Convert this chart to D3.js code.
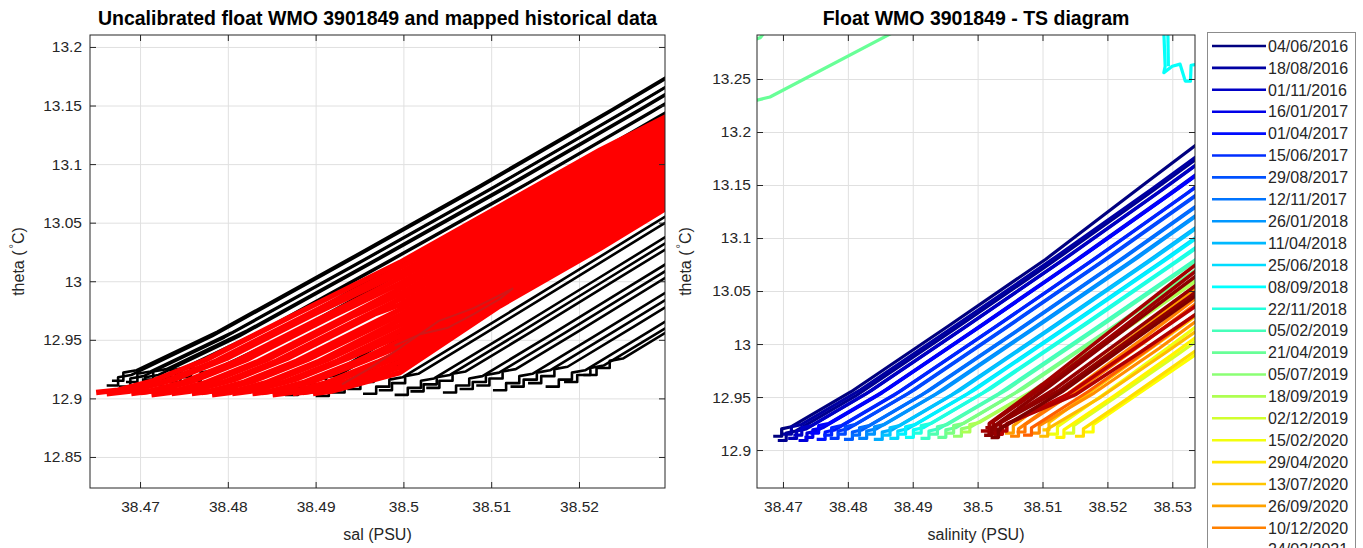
<!DOCTYPE html>
<html>
<head>
<meta charset="utf-8">
<script src="https://cdn.jsdelivr.net/npm/d3@7"></script>
<style>
  body { margin: 0; background: #fff; }
  svg { display: block; font-family: "Liberation Sans", Arial, sans-serif; }
</style>
</head>
<body>
<svg id="chart" width="1363" height="548"></svg>
<script>
// ---- ticks ----
const leftXTicks = [38.47, 38.48, 38.49, 38.5, 38.51, 38.52];
const leftYTicks = [12.85, 12.9, 12.95, 13, 13.05, 13.1, 13.15, 13.2];
const rightXTicks = [38.47, 38.48, 38.49, 38.5, 38.51, 38.52, 38.53];
const rightYTicks = [12.9, 12.95, 13, 13.05, 13.1, 13.15, 13.2, 13.25];

// ---- legend (every 15th cycle) ----
const legendDates = ['04/06/2016', '18/08/2016', '01/11/2016', '16/01/2017', '01/04/2017',
  '15/06/2017', '29/08/2017', '12/11/2017', '26/01/2018', '11/04/2018', '25/06/2018',
  '08/09/2018', '22/11/2018', '05/02/2019', '21/04/2019', '05/07/2019', '18/09/2019',
  '02/12/2019', '15/02/2020', '29/04/2020', '13/07/2020', '26/09/2020', '10/12/2020',
  '24/02/2021', '10/05/2021', '24/07/2021', '07/10/2021', '21/12/2021', '06/03/2022', '20/05/2022'];
const legendCycles = [1, 16, 31, 46, 61, 76, 91, 106, 121, 136, 151, 166, 181, 196, 211,
  226, 241, 256, 271, 286, 301, 316, 331, 346, 361, 376, 391, 406, 421, 436];
const lastCycle = 441;

// ---- left panel: mapped historical data (black) ----
const histUpper = [
  [[38.4662,12.911],[38.4675,12.911],[38.4675,12.918],[38.4690,12.920],[38.4782,12.953],[38.4932,13.015],[38.5082,13.078],[38.5232,13.143],[38.5362,13.201]],
  [[38.4668,12.915],[38.4681,12.915],[38.4681,12.922],[38.4696,12.924],[38.4788,12.957],[38.4938,13.019],[38.5088,13.082],[38.5238,13.147],[38.5368,13.205]],
  [[38.4676,12.910],[38.4689,12.910],[38.4689,12.917],[38.4704,12.919],[38.4796,12.952],[38.4946,13.014],[38.5096,13.077],[38.5246,13.142],[38.5376,13.200]],
  [[38.4684,12.914],[38.4697,12.914],[38.4697,12.921],[38.4712,12.923],[38.4804,12.956],[38.4954,13.018],[38.5104,13.081],[38.5254,13.146],[38.5384,13.204]],
  [[38.4693,12.911],[38.4706,12.911],[38.4706,12.918],[38.4721,12.920],[38.4813,12.953],[38.4963,13.015],[38.5113,13.078],[38.5263,13.143],[38.5393,13.201]],
  [[38.4702,12.916],[38.4715,12.916],[38.4715,12.923],[38.4730,12.925],[38.4822,12.958],[38.4972,13.020],[38.5122,13.083],[38.5272,13.148],[38.5402,13.206]],
  [[38.4712,12.912],[38.4725,12.912],[38.4725,12.919],[38.4740,12.921],[38.4832,12.954],[38.4982,13.016],[38.5132,13.079],[38.5282,13.144],[38.5412,13.202]],
  [[38.4722,12.917],[38.4735,12.917],[38.4735,12.924],[38.4750,12.926],[38.4842,12.959],[38.4992,13.021],[38.5142,13.084],[38.5292,13.149],[38.5422,13.207]],
  [[38.4733,12.914],[38.4746,12.914],[38.4746,12.921],[38.4761,12.923],[38.4853,12.956],[38.5003,13.018],[38.5153,13.081],[38.5303,13.146]],
  [[38.4745,12.918],[38.4758,12.918],[38.4758,12.925],[38.4773,12.927],[38.4865,12.960],[38.5015,13.022],[38.5165,13.085],[38.5315,13.150]],
  [[38.4756,12.915],[38.4769,12.915],[38.4769,12.922],[38.4784,12.924],[38.4876,12.957],[38.5026,13.019],[38.5176,13.082],[38.5326,13.147]]
];
const histLower = [
  [[38.4865,12.903],[38.4880,12.903],[38.4880,12.909],[38.4895,12.909],[38.4895,12.915],[38.4910,12.917],[38.4985,12.951],[38.5085,12.997],[38.5185,13.043],[38.5285,13.089],[38.5335,13.112]],
  [[38.4882,12.906],[38.4897,12.906],[38.4897,12.912],[38.4912,12.912],[38.4912,12.918],[38.4927,12.920],[38.5002,12.954],[38.5102,13.000],[38.5202,13.046],[38.5302,13.092]],
  [[38.4900,12.902],[38.4915,12.902],[38.4915,12.908],[38.4930,12.908],[38.4930,12.914],[38.4945,12.916],[38.5020,12.950],[38.5120,12.996],[38.5220,13.042],[38.5320,13.088]],
  [[38.4918,12.905],[38.4933,12.905],[38.4933,12.911],[38.4948,12.911],[38.4948,12.917],[38.4963,12.919],[38.5038,12.953],[38.5138,12.999],[38.5238,13.045],[38.5338,13.091]],
  [[38.4936,12.908],[38.4951,12.908],[38.4951,12.914],[38.4966,12.914],[38.4966,12.920],[38.4981,12.922],[38.5056,12.956],[38.5156,13.002],[38.5256,13.048],[38.5356,13.094]],
  [[38.4954,12.904],[38.4969,12.904],[38.4969,12.910],[38.4984,12.910],[38.4984,12.916],[38.4999,12.918],[38.5074,12.952],[38.5174,12.998],[38.5274,13.044],[38.5374,13.090]],
  [[38.4972,12.907],[38.4987,12.907],[38.4987,12.913],[38.5002,12.913],[38.5002,12.919],[38.5017,12.921],[38.5092,12.955],[38.5192,13.001],[38.5292,13.047],[38.5392,13.093]],
  [[38.4990,12.903],[38.5005,12.903],[38.5005,12.909],[38.5020,12.909],[38.5020,12.915],[38.5035,12.917],[38.5110,12.951],[38.5210,12.997],[38.5310,13.043]],
  [[38.5008,12.906],[38.5023,12.906],[38.5023,12.912],[38.5038,12.912],[38.5038,12.918],[38.5053,12.920],[38.5128,12.954],[38.5228,13.000],[38.5328,13.046]],
  [[38.5026,12.909],[38.5041,12.909],[38.5041,12.915],[38.5056,12.915],[38.5056,12.921],[38.5071,12.923],[38.5146,12.957],[38.5246,13.003],[38.5346,13.049]],
  [[38.5045,12.905],[38.5060,12.905],[38.5060,12.911],[38.5075,12.911],[38.5075,12.917],[38.5090,12.919],[38.5165,12.953],[38.5265,12.999],[38.5365,13.045]],
  [[38.5064,12.908],[38.5079,12.908],[38.5079,12.914],[38.5094,12.914],[38.5094,12.920],[38.5109,12.922],[38.5184,12.956],[38.5284,13.002],[38.5384,13.048]],
  [[38.5083,12.911],[38.5098,12.911],[38.5098,12.917],[38.5113,12.917],[38.5113,12.923],[38.5128,12.925],[38.5203,12.959],[38.5303,13.005]],
  [[38.5102,12.907],[38.5117,12.907],[38.5117,12.913],[38.5132,12.913],[38.5132,12.919],[38.5147,12.921],[38.5222,12.955],[38.5322,13.001]],
  [[38.5122,12.910],[38.5137,12.910],[38.5137,12.916],[38.5152,12.916],[38.5152,12.922],[38.5167,12.924],[38.5242,12.958],[38.5342,13.004]],
  [[38.5142,12.913],[38.5157,12.913],[38.5157,12.919],[38.5172,12.919],[38.5172,12.925],[38.5187,12.927],[38.5262,12.961],[38.5362,13.007]],
  [[38.5162,12.910],[38.5177,12.910],[38.5177,12.916],[38.5192,12.916],[38.5192,12.922],[38.5207,12.924],[38.5282,12.958],[38.5382,13.004]],
  [[38.5183,12.914],[38.5198,12.914],[38.5198,12.920],[38.5213,12.920],[38.5213,12.926],[38.5228,12.928],[38.5303,12.962]],
  [[38.5205,12.920],[38.5220,12.920],[38.5220,12.926],[38.5235,12.926],[38.5235,12.932],[38.5250,12.934],[38.5325,12.968]]
];

// ---- left panel: uncalibrated float profiles (red) ----
const floatRaw = [
  [[38.4650,12.905],[38.4675,12.907],[38.4715,12.915],[38.4775,12.933],[38.4875,12.971],[38.4996,13.016],[38.5110,13.064],[38.5224,13.112],[38.5340,13.156]],
  [[38.4662,12.904],[38.4687,12.906],[38.4727,12.914],[38.4787,12.932],[38.4887,12.970],[38.4996,13.0115],[38.5110,13.060],[38.5224,13.108],[38.5340,13.152]],
  [[38.4678,12.906],[38.4698,12.908],[38.4738,12.916],[38.4798,12.934],[38.4898,12.972],[38.4996,13.007],[38.5110,13.056],[38.5224,13.104],[38.5340,13.149]],
  [[38.4690,12.904],[38.4710,12.906],[38.4750,12.914],[38.4810,12.932],[38.4910,12.970],[38.4996,13.0026],[38.5110,13.0519],[38.5224,13.100],[38.5340,13.145]],
  [[38.4701,12.905],[38.4721,12.907],[38.4761,12.915],[38.4821,12.933],[38.4921,12.971],[38.4996,12.998],[38.5110,13.048],[38.5224,13.096],[38.5340,13.142]],
  [[38.4713,12.903],[38.4733,12.905],[38.4773,12.913],[38.4833,12.931],[38.4933,12.969],[38.4996,12.9936],[38.5110,13.0438],[38.5224,13.092],[38.5340,13.138]],
  [[38.4724,12.905],[38.4744,12.907],[38.4784,12.915],[38.4844,12.933],[38.4944,12.971],[38.4996,12.989],[38.5110,13.0397],[38.5224,13.088],[38.5340,13.135]],
  [[38.4736,12.904],[38.4756,12.906],[38.4796,12.914],[38.4856,12.932],[38.4956,12.970],[38.4996,12.9847],[38.5110,13.0357],[38.5224,13.084],[38.5340,13.131]],
  [[38.4747,12.906],[38.4767,12.908],[38.4807,12.916],[38.4867,12.934],[38.4967,12.972],[38.4996,12.980],[38.5110,13.0316],[38.5224,13.080],[38.5340,13.1274]],
  [[38.4759,12.904],[38.4779,12.906],[38.4819,12.914],[38.4879,12.932],[38.4996,12.9757],[38.5110,13.0276],[38.5224,13.076],[38.5340,13.1239]],
  [[38.4770,12.905],[38.4790,12.907],[38.4830,12.915],[38.4890,12.933],[38.4996,12.9712],[38.5110,13.0235],[38.5224,13.072],[38.5340,13.1203]],
  [[38.4782,12.903],[38.4802,12.905],[38.4842,12.913],[38.4902,12.931],[38.4996,12.9668],[38.5110,13.0195],[38.5224,13.068],[38.5340,13.1167]],
  [[38.4793,12.905],[38.4813,12.907],[38.4853,12.915],[38.4913,12.933],[38.4996,12.9623],[38.5110,13.0154],[38.5224,13.064],[38.5340,13.1131]],
  [[38.4805,12.904],[38.4825,12.906],[38.4865,12.914],[38.4925,12.932],[38.4996,12.9578],[38.5110,13.0114],[38.5224,13.060],[38.5340,13.1096]],
  [[38.4816,12.906],[38.4836,12.908],[38.4876,12.916],[38.4936,12.934],[38.4996,12.9533],[38.5110,13.0073],[38.5224,13.056],[38.5340,13.106]],
  [[38.4828,12.904],[38.4848,12.906],[38.4888,12.914],[38.4948,12.932],[38.4996,12.9489],[38.5110,13.0033],[38.5224,13.052],[38.5340,13.1024]],
  [[38.4839,12.905],[38.4859,12.907],[38.4899,12.915],[38.4959,12.933],[38.4996,12.9444],[38.5110,12.9992],[38.5224,13.048],[38.5340,13.0989]],
  [[38.4851,12.903],[38.4871,12.905],[38.4911,12.913],[38.4971,12.931],[38.4996,12.9399],[38.5110,12.9952],[38.5224,13.044],[38.5340,13.0953]],
  [[38.4862,12.905],[38.4882,12.907],[38.4922,12.915],[38.4996,12.9354],[38.5110,12.9911],[38.5224,13.040],[38.5340,13.0917]],
  [[38.4874,12.904],[38.4894,12.906],[38.4934,12.914],[38.4996,12.931],[38.5110,12.9871],[38.5224,13.036],[38.5340,13.0881]],
  [[38.4885,12.905],[38.4905,12.907],[38.4945,12.915],[38.4996,12.9265],[38.5110,12.983],[38.5224,13.032],[38.5340,13.0846]],
  [[38.4897,12.904],[38.4917,12.906],[38.4957,12.914],[38.4996,12.922],[38.5110,12.979],[38.5224,13.028],[38.5340,13.081]]
];
const floatLoop = [[38.4930,12.912],[38.4960,12.925],[38.4996,12.943],[38.5040,12.966],[38.5080,12.977],
  [38.5115,12.990],[38.5125,12.994],[38.5110,12.985],[38.5080,12.972],[38.5050,12.960],[38.5020,12.955],[38.4990,12.945]];

// ---- right panel: float profiles coloured by cycle ----
const tsProfiles = [
  {cycle: 1, pts: [[38.4685,12.913],[38.4698,12.913],[38.4698,12.920],[38.4713,12.922],[38.4805,12.955],[38.4955,13.017],[38.5105,13.080],[38.5255,13.150],[38.5385,13.210]]},
  {cycle: 8, pts: [[38.4692,12.909],[38.4705,12.909],[38.4705,12.916],[38.4720,12.918],[38.4812,12.951],[38.4962,13.013],[38.5112,13.076],[38.5262,13.141],[38.5392,13.199]]},
  {cycle: 16, pts: [[38.4700,12.915],[38.4713,12.915],[38.4713,12.922],[38.4728,12.924],[38.4820,12.957],[38.4970,13.019],[38.5120,13.082],[38.5270,13.147],[38.5400,13.205]]},
  {cycle: 24, pts: [[38.4708,12.911],[38.4721,12.911],[38.4721,12.918],[38.4736,12.920],[38.4828,12.953],[38.4978,13.015],[38.5128,13.078],[38.5278,13.143],[38.5408,13.201]]},
  {cycle: 31, pts: [[38.4716,12.914],[38.4729,12.914],[38.4729,12.921],[38.4744,12.923],[38.4836,12.956],[38.4986,13.018],[38.5136,13.081],[38.5286,13.146],[38.5416,13.204]]},
  {cycle: 40, pts: [[38.4724,12.909],[38.4737,12.909],[38.4737,12.916],[38.4752,12.918],[38.4844,12.951],[38.4994,13.013],[38.5144,13.076],[38.5294,13.141],[38.5424,13.199]]},
  {cycle: 48, pts: [[38.4733,12.912],[38.4746,12.912],[38.4746,12.919],[38.4761,12.921],[38.4853,12.954],[38.5003,13.016],[38.5153,13.079],[38.5303,13.144],[38.5433,13.202]]},
  {cycle: 56, pts: [[38.4742,12.916],[38.4755,12.916],[38.4755,12.923],[38.4770,12.925],[38.4862,12.958],[38.5012,13.020],[38.5162,13.083],[38.5312,13.148],[38.5442,13.206]]},
  {cycle: 64, pts: [[38.4752,12.910],[38.4765,12.910],[38.4765,12.917],[38.4780,12.919],[38.4872,12.952],[38.5022,13.014],[38.5172,13.077],[38.5322,13.142],[38.5452,13.200]]},
  {cycle: 72, pts: [[38.4762,12.914],[38.4775,12.914],[38.4775,12.921],[38.4790,12.923],[38.4882,12.956],[38.5032,13.018],[38.5182,13.081],[38.5332,13.146],[38.5462,13.204]]},
  {cycle: 80, pts: [[38.4772,12.911],[38.4785,12.911],[38.4785,12.918],[38.4800,12.920],[38.4892,12.953],[38.5042,13.015],[38.5192,13.078],[38.5342,13.143]]},
  {cycle: 88, pts: [[38.4783,12.915],[38.4796,12.915],[38.4796,12.922],[38.4811,12.924],[38.4903,12.957],[38.5053,13.019],[38.5203,13.082],[38.5353,13.147]]},
  {cycle: 96, pts: [[38.4794,12.910],[38.4807,12.910],[38.4807,12.917],[38.4822,12.919],[38.4914,12.952],[38.5064,13.014],[38.5214,13.077],[38.5364,13.142]]},
  {cycle: 104, pts: [[38.4805,12.914],[38.4818,12.914],[38.4818,12.921],[38.4833,12.923],[38.4925,12.956],[38.5075,13.018],[38.5225,13.081],[38.5375,13.146]]},
  {cycle: 112, pts: [[38.4816,12.911],[38.4829,12.911],[38.4829,12.918],[38.4844,12.920],[38.4936,12.953],[38.5086,13.015],[38.5236,13.078],[38.5386,13.143]]},
  {cycle: 120, pts: [[38.4828,12.915],[38.4841,12.915],[38.4841,12.922],[38.4856,12.924],[38.4948,12.957],[38.5098,13.019],[38.5248,13.082],[38.5398,13.147]]},
  {cycle: 130, pts: [[38.4840,12.910],[38.4853,12.910],[38.4853,12.917],[38.4868,12.919],[38.4960,12.952],[38.5110,13.014],[38.5260,13.077],[38.5410,13.142]]},
  {cycle: 140, pts: [[38.4852,12.914],[38.4865,12.914],[38.4865,12.921],[38.4880,12.923],[38.4972,12.956],[38.5122,13.018],[38.5272,13.081],[38.5422,13.146]]},
  {cycle: 150, pts: [[38.4864,12.911],[38.4877,12.911],[38.4877,12.918],[38.4892,12.920],[38.4984,12.953],[38.5134,13.015],[38.5284,13.078],[38.5434,13.143]]},
  {cycle: 160, pts: [[38.4876,12.915],[38.4889,12.915],[38.4889,12.922],[38.4904,12.924],[38.4996,12.957],[38.5146,13.019],[38.5296,13.082],[38.5446,13.147]]},
  {cycle: 168, pts: [[38.5284,13.300],[38.5287,13.294],[38.5289,13.262],[38.5287,13.256],[38.5300,13.262],[38.5312,13.264],[38.5315,13.258],[38.5320,13.248],[38.5328,13.248],[38.5329,13.263],[38.5340,13.264]]},
  {cycle: 168, pts: [[38.5293,13.300],[38.5294,13.262]]},
  {cycle: 170, pts: [[38.4888,12.912],[38.4901,12.912],[38.4901,12.919],[38.4916,12.921],[38.5008,12.954],[38.5158,13.016],[38.5308,13.079],[38.5458,13.144]]},
  {cycle: 180, pts: [[38.4900,12.916],[38.4913,12.916],[38.4913,12.923],[38.4928,12.925],[38.5020,12.958],[38.5170,13.020],[38.5320,13.083],[38.5470,13.148]]},
  {cycle: 190, pts: [[38.4912,12.911],[38.4925,12.911],[38.4925,12.918],[38.4940,12.920],[38.5032,12.953],[38.5182,13.015],[38.5332,13.078],[38.5482,13.143]]},
  {cycle: 200, pts: [[38.4925,12.915],[38.4938,12.915],[38.4938,12.922],[38.4953,12.924],[38.5045,12.957],[38.5195,13.019],[38.5345,13.082]]},
  {cycle: 210, pts: [[38.4938,12.912],[38.4951,12.912],[38.4951,12.919],[38.4966,12.921],[38.5058,12.954],[38.5208,13.016],[38.5358,13.079]]},
  {cycle: 211, pts: [[38.4600,13.226],[38.4660,13.230],[38.4680,13.233],[38.4870,13.294],[38.4960,13.325]]},
  {cycle: 211, pts: [[38.4640,13.284],[38.4665,13.289],[38.4680,13.300]]},
  {cycle: 220, pts: [[38.4950,12.916],[38.4963,12.916],[38.4963,12.923],[38.4978,12.925],[38.5070,12.958],[38.5220,13.020],[38.5370,13.083]]},
  {cycle: 230, pts: [[38.4962,12.913],[38.4975,12.913],[38.4975,12.920],[38.4990,12.922],[38.5082,12.955],[38.5232,13.017],[38.5382,13.080]]},
  {cycle: 240, pts: [[38.4975,12.917],[38.4988,12.917],[38.4988,12.924],[38.5003,12.926],[38.5095,12.959],[38.5245,13.021],[38.5395,13.084]]},
  {cycle: 260, pts: [[38.5135,12.916],[38.5148,12.916],[38.5148,12.923],[38.5220,12.953],[38.5310,12.991],[38.5360,13.013]]},
  {cycle: 270, pts: [[38.5110,12.915],[38.5123,12.915],[38.5123,12.922],[38.5200,12.955],[38.5290,12.995],[38.5360,13.027]]},
  {cycle: 275, pts: [[38.5165,12.917],[38.5178,12.917],[38.5178,12.924],[38.5250,12.954],[38.5360,13.000]]},
  {cycle: 280, pts: [[38.5120,12.912],[38.5133,12.912],[38.5133,12.919],[38.5210,12.951],[38.5300,12.990],[38.5360,13.017]]},
  {cycle: 290, pts: [[38.5150,12.913],[38.5163,12.913],[38.5163,12.920],[38.5230,12.948],[38.5360,13.004]]},
  {cycle: 300, pts: [[38.5100,12.919],[38.5110,12.919],[38.5110,12.926],[38.5190,12.962],[38.5290,13.006],[38.5360,13.037]]},
  {cycle: 305, pts: [[38.5095,12.913],[38.5108,12.913],[38.5108,12.920],[38.5190,12.950],[38.5290,12.992],[38.5360,13.022]]},
  {cycle: 318, pts: [[38.5042,12.916],[38.5055,12.916],[38.5055,12.923],[38.5140,12.962],[38.5240,13.008],[38.5360,13.064]]},
  {cycle: 325, pts: [[38.5082,12.916],[38.5095,12.916],[38.5095,12.923],[38.5180,12.954],[38.5280,12.996],[38.5360,13.032]]},
  {cycle: 330, pts: [[38.5050,12.913],[38.5063,12.913],[38.5063,12.920],[38.5150,12.958],[38.5250,13.003],[38.5360,13.054]]},
  {cycle: 335, pts: [[38.5060,12.917],[38.5073,12.917],[38.5073,12.924],[38.5160,12.959],[38.5260,13.003],[38.5360,13.049]]},
  {cycle: 345, pts: [[38.5070,12.914],[38.5083,12.914],[38.5083,12.921],[38.5170,12.955],[38.5270,12.998],[38.5360,13.039]]},
  {cycle: 415, pts: [[38.5025,12.915],[38.5038,12.915],[38.5038,12.922],[38.5140,12.953],[38.5240,12.995],[38.5360,13.046]]},
  {cycle: 420, pts: [[38.5030,12.918],[38.5045,12.918],[38.5045,12.925],[38.5150,12.952],[38.5250,12.992],[38.5360,13.038]]},
  {cycle: 425, pts: [[38.5005,12.918],[38.5018,12.918],[38.5018,12.925],[38.5100,12.962],[38.5200,13.010],[38.5300,13.058],[38.5360,13.086]]},
  {cycle: 428, pts: [[38.5012,12.921],[38.5024,12.921],[38.5024,12.927],[38.5105,12.961],[38.5205,13.007],[38.5305,13.054],[38.5360,13.080]]},
  {cycle: 430, pts: [[38.5015,12.916],[38.5028,12.916],[38.5028,12.923],[38.5120,12.958],[38.5220,13.003],[38.5320,13.048],[38.5360,13.066]]},
  {cycle: 433, pts: [[38.5022,12.919],[38.5035,12.919],[38.5035,12.926],[38.5125,12.956],[38.5225,13.000],[38.5325,13.044],[38.5360,13.060]]},
  {cycle: 435, pts: [[38.5010,12.914],[38.5022,12.914],[38.5022,12.921],[38.5110,12.960],[38.5210,13.006],[38.5310,13.052],[38.5360,13.075]]},
  {cycle: 441, pts: [[38.5020,12.912],[38.5032,12.912],[38.5032,12.919],[38.5130,12.955],[38.5230,12.999],[38.5330,13.043],[38.5360,13.056]]}
];

// MATLAB jet
const jet = d3.scaleLinear()
  .domain([0, 0.125, 0.375, 0.625, 0.875, 1])
  .range(['#00007f', '#0000ff', '#00ffff', '#ffff00', '#ff0000', '#7f0000'])
  .interpolate(d3.interpolateRgb);
const cycleColor = (c) => jet((c - 1) / (lastCycle - 1));

const svg = d3.select('#chart');
const ink = '#262626';

function makePanel(id, box, xDomain, yDomain, xTicks, yTicks) {
  const x = d3.scaleLinear().domain(xDomain).range([box.left, box.right]);
  const y = d3.scaleLinear().domain(yDomain).range([box.bottom, box.top]);
  const w = box.right - box.left;
  const h = box.bottom - box.top;
  const g = svg.append('g').attr('class', id);

  // grid
  g.append('g')
    .attr('transform', `translate(0,${box.bottom})`)
    .call(d3.axisBottom(x).tickValues(xTicks).tickSize(-h).tickFormat(''))
    .call((s) => { s.select('.domain').remove(); s.selectAll('line').attr('stroke', '#e0e0e0'); });
  g.append('g')
    .attr('transform', `translate(${box.left},0)`)
    .call(d3.axisLeft(y).tickValues(yTicks).tickSize(-w).tickFormat(''))
    .call((s) => { s.select('.domain').remove(); s.selectAll('line').attr('stroke', '#e0e0e0'); });

  svg.append('clipPath').attr('id', id + '-clip')
    .append('rect').attr('x', box.left).attr('y', box.top).attr('width', w).attr('height', h);
  const plot = g.append('g').attr('clip-path', `url(#${id}-clip)`);

  return { x, y, g, plot, box, xTicks, yTicks };
}

function finishPanel(p, yPad) {
  const { x, y, g, box, xTicks, yTicks } = p;
  const fmt = (d) => String(d);
  const styleAxis = (s) => {
    s.select('.domain').remove();
    s.selectAll('line').attr('stroke', ink);
    s.selectAll('text').attr('fill', ink).attr('font-size', 15.5)
      .attr('font-family', '"Liberation Sans", Arial, sans-serif');
  };
  g.append('g').attr('transform', `translate(0,${box.bottom})`)
    .call(d3.axisBottom(x).tickValues(xTicks).tickSize(-6).tickPadding(13).tickFormat(fmt)).call(styleAxis);
  g.append('g').attr('transform', `translate(0,${box.top})`)
    .call(d3.axisTop(x).tickValues(xTicks).tickSize(-6).tickFormat('')).call(styleAxis);
  g.append('g').attr('transform', `translate(${box.left},0)`)
    .call(d3.axisLeft(y).tickValues(yTicks).tickSize(-6).tickPadding(yPad).tickFormat(fmt)).call(styleAxis);
  g.append('g').attr('transform', `translate(${box.right},0)`)
    .call(d3.axisRight(y).tickValues(yTicks).tickSize(-6).tickFormat('')).call(styleAxis);
  g.append('rect')
    .attr('x', box.left).attr('y', box.top)
    .attr('width', box.right - box.left).attr('height', box.bottom - box.top)
    .attr('fill', 'none').attr('stroke', ink).attr('stroke-width', 1);
}

function labels(p, title, xlab, ylabX) {
  const { box, g } = p;
  const cx = (box.left + box.right) / 2;
  const cy = (box.top + box.bottom) / 2;
  g.append('text').attr('x', cx).attr('y', 25).attr('text-anchor', 'middle')
    .attr('font-size', 19.5).attr('font-weight', 'bold').attr('fill', '#000').text(title);
  g.append('text').attr('x', cx).attr('y', 540).attr('text-anchor', 'middle')
    .attr('font-size', 16).attr('fill', ink).text(xlab);
  const yl = g.append('text')
    .attr('transform', `translate(${ylabX},${cy}) rotate(-90)`)
    .attr('text-anchor', 'middle').attr('font-size', 16).attr('fill', ink);
  yl.append('tspan').text('theta (');
  yl.append('tspan').attr('dx', 2).attr('dy', -7).attr('font-size', 11).text('°');
  yl.append('tspan').attr('dy', 7).text('C)');
}

// ---------- left panel ----------
const left = makePanel('left', { left: 90, right: 665, top: 35, bottom: 488 },
  [38.4643, 38.5298], [12.8235, 13.2102], leftXTicks, leftYTicks);
const lineL = d3.line().x((d) => left.x(d[0])).y((d) => left.y(d[1]));

left.plot.append('g')
  .selectAll('path')
  .data(histUpper.concat(histLower))
  .join('path')
  .attr('d', lineL)
  .attr('fill', 'none')
  .attr('stroke', '#000')
  .attr('stroke-width', 2.6)
  .attr('stroke-linejoin', 'round');

left.plot.append('g')
  .selectAll('path')
  .data(floatRaw)
  .join('path')
  .attr('d', lineL)
  .attr('fill', 'none')
  .attr('stroke', '#ff0000')
  .attr('stroke-width', 5.4)
  .attr('stroke-linejoin', 'round');

left.plot.append('path')
  .attr('d', lineL(floatLoop))
  .attr('fill', 'none')
  .attr('stroke', '#d01818')
  .attr('stroke-width', 2);

finishPanel(left, 8);
labels(left, 'Uncalibrated float WMO 3901849 and mapped historical data', 'sal (PSU)', 24);

// ---------- right panel ----------
const right = makePanel('right', { left: 757, right: 1195, top: 35, bottom: 488 },
  [38.466, 38.5335], [12.8642, 13.2915], rightXTicks, rightYTicks);
const lineR = d3.line().x((d) => right.x(d[0])).y((d) => right.y(d[1]));

right.plot.append('g')
  .selectAll('path')
  .data(d3.sort(tsProfiles, (d) => d.cycle))
  .join('path')
  .attr('d', (d) => lineR(d.pts))
  .attr('fill', 'none')
  .attr('stroke', (d) => cycleColor(d.cycle))
  .attr('stroke-width', (d) => (d.cycle > 400 ? 3.6 : 3.2))
  .attr('stroke-linejoin', 'round');

finishPanel(right, 6);
labels(right, 'Float WMO 3901849 - TS diagram', 'salinity (PSU)', 691);

// ---------- legend ----------
const legend = svg.append('g').attr('class', 'legend');
legend.append('rect')
  .attr('x', 1207.5).attr('y', 32.5).attr('width', 148).attr('height', 560)
  .attr('fill', '#fff').attr('stroke', '#8c8c8c');
const rowY = d3.scaleLinear().domain([0, 1]).range([46, 67.9]);
const rows = legend.selectAll('g.row')
  .data(legendDates.map((d, i) => ({ date: d, cycle: legendCycles[i], i })))
  .join('g').attr('class', 'row')
  .attr('transform', (d) => `translate(0,${rowY(d.i)})`);
rows.append('line')
  .attr('x1', 1212).attr('x2', 1266)
  .attr('stroke', (d) => cycleColor(d.cycle)).attr('stroke-width', 2.6);
rows.append('text')
  .attr('x', 1268).attr('dy', '0.36em')
  .attr('font-size', 16).attr('fill', ink)
  .text((d) => d.date);
</script>
</body>
</html>
